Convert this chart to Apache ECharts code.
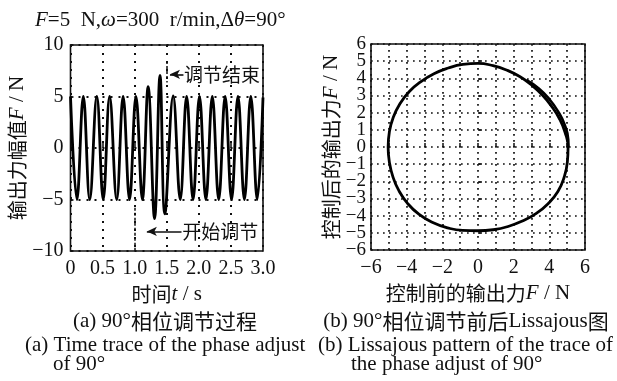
<!DOCTYPE html>
<html>
<head>
<meta charset="utf-8">
<script src="https://cdn.jsdelivr.net/npm/echarts@6/dist/echarts.min.js"></script>
<style>
html,body{margin:0;padding:0;background:#fff;}
#c{width:617px;height:381px;}
</style>
</head>
<body>
<div id="c"></div>
<script>
// ---- data ----
// (a) time trace: extremes of the output force
const timeS = [0, 0.10, 0.20, 0.30, 0.41, 0.51, 0.61, 0.72, 0.82, 0.92, 1.02, 1.12, 1.21, 1.31, 1.395, 1.47, 1.60, 1.71, 1.81, 1.91, 2.01, 2.11, 2.21, 2.31, 2.41, 2.51, 2.61, 2.71, 2.81, 2.91, 3.0];
const forceN = [5, -5, 5, -5, 5, -5, 5, -5, 5, -5, 5, -5, 5.95, -6.85, 7.05, -6.4, 5.05, -5, 5, -5, 5, -5, 5, -5, 5, -5, 5, -5, 5, -5, 4.9];
// (b) Lissajous trace: before (x) vs after (y)
const lissX = [0, -0.85, -1.67, -2.47, -3.20, -3.85, -4.37, -4.75, -4.97, -5.04, -4.97, -4.77, -4.43, -3.94, -3.30, -2.54, -1.71, -0.86, 0, 0.85, 1.69, 2.49, 3.25, 3.93, 4.48, 4.83, 5.01, 5.05, 4.88, 4.56, 4.12, 3.61, 3.02, 2.36, 1.63, 0.84, 0, -0.85];
const lissY = [4.87, 4.81, 4.60, 4.27, 3.81, 3.23, 2.53, 1.73, 0.88, 0, -0.88, -1.74, -2.56, -3.30, -3.93, -4.40, -4.71, -4.86, -4.88, -4.82, -4.63, -4.31, -3.88, -3.30, -2.59, -1.76, -0.88, 0, 0.86, 1.66, 2.38, 3.03, 3.60, 4.09, 4.47, 4.74, 4.87, 4.81];
// transient overlap on the right side of the Lissajous figure
const bandX = [2.73, 3.41, 3.99, 4.48, 4.86, 5.06, 5.07];
const bandY = [3.89, 3.41, 2.80, 2.09, 1.30, 0.44, 0];
// tick labels
const leftXTicks = ['0', '0.5', '1.0', '1.5', '2.0', '2.5', '3.0'];
const leftYTicks = ['−10', '−5', '0', '5', '10'];
const rightTicks = ['−6', '−5', '−4', '−3', '−2', '−1', '0', '1', '2', '3', '4', '5', '6'];
// annotation markers
const startAdjust = 1.0, endAdjust = 1.5;

const FONT = "'Liberation Serif', 'Noto Sans CJK SC', serif";
const CJK = "'Noto Sans CJK SC', 'Liberation Serif', sans-serif";

const waveData = timeS.map((t, i) => [t, forceN[i]]);
const lissData = lissX.map((x, i) => [x, lissY[i]]);
const bandData = bandX.map((x, i) => [x, bandY[i]]);

const dotted = { color: '#111', width: 2, type: [2, 6] };
const dottedR = { color: '#111', width: 1.7, type: [1.7, 4.3] };

function labelFmt(list, min, step) {
  return function (v) {
    const idx = Math.round((v - min) / step);
    return list[idx] !== undefined ? list[idx] : '';
  };
}

const nameRich = {
  i: { fontFamily: FONT, fontStyle: 'italic', fontSize: 21, color: '#111' },
  r: { fontFamily: FONT, fontSize: 21, color: '#111' }
};

const chart = echarts.init(document.getElementById('c'), null, { renderer: 'canvas' });
const option = {
  animation: false,
  backgroundColor: '#fff',
  grid: [
    { left: 70.5, top: 45, width: 192.5, height: 206, show: true, borderColor: '#111', borderWidth: 1.6, backgroundColor: 'transparent' },
    { left: 371, top: 44, width: 214, height: 206, show: true, borderColor: '#111', borderWidth: 1.6, backgroundColor: 'transparent' }
  ],
  xAxis: [
    {
      gridIndex: 0, type: 'value', min: 0, max: 3, interval: 0.5,
      axisLine: { show: false },
      axisTick: { show: true, inside: true, length: 5, lineStyle: { color: '#111', width: 1.5 } },
      axisLabel: { fontFamily: FONT, fontSize: 20, color: '#111', margin: 8, showMinLabel: true, showMaxLabel: true, formatter: labelFmt(leftXTicks, 0, 0.5) },
      splitLine: { show: true, lineStyle: dotted },
      name: '时间{i|t}{r| / s}', nameLocation: 'middle', nameGap: 31,
      nameTextStyle: { fontFamily: CJK, fontSize: 20, color: '#111', rich: nameRich }
    },
    {
      gridIndex: 1, type: 'value', min: -6, max: 6, interval: 1,
      axisLine: { show: false },
      axisTick: { show: true, inside: true, length: 4, lineStyle: { color: '#111', width: 1.5 } },
      axisLabel: { fontFamily: FONT, fontSize: 20, color: '#111', margin: 8, showMinLabel: true, showMaxLabel: true,
        formatter: function (v) { return (Math.round(v) % 2 === 0) ? rightTicks[Math.round(v) + 6] : ''; } },
      splitLine: { show: true, lineStyle: dottedR },
      name: '控制前的输出力{i|F}{r| / N}', nameLocation: 'middle', nameGap: 32,
      nameTextStyle: { fontFamily: CJK, fontSize: 20, color: '#111', rich: nameRich }
    }
  ],
  yAxis: [
    {
      gridIndex: 0, type: 'value', min: -10, max: 10, interval: 5,
      axisLine: { show: false },
      axisTick: { show: true, inside: true, length: 3, lineStyle: { color: '#111', width: 1.5 } },
      axisLabel: { fontFamily: FONT, fontSize: 20, color: '#111', margin: 7, showMinLabel: true, showMaxLabel: true, formatter: labelFmt(leftYTicks, -10, 5) },
      splitLine: { show: true, lineStyle: dotted },
      name: '输出力幅值{i|F}{r| / N}', nameLocation: 'middle', nameGap: 38,
      nameTextStyle: { fontFamily: CJK, fontSize: 20, color: '#111', rich: nameRich }
    },
    {
      gridIndex: 1, type: 'value', position: 'left', min: -6, max: 6, interval: 1,
      axisLine: { show: false },
      axisTick: { show: true, inside: true, length: 4, lineStyle: { color: '#111', width: 1.5 } },
      axisLabel: { fontFamily: FONT, fontSize: 19, color: '#111', margin: 5, showMinLabel: false, showMaxLabel: false, formatter: labelFmt(rightTicks, -6, 1) },
      splitLine: { show: true, lineStyle: dottedR },
      name: '控制后的输出力{i|F}{r| / N}', nameLocation: 'middle', nameGap: 29,
      nameTextStyle: { fontFamily: CJK, fontSize: 20, color: '#111', rich: nameRich }
    },
    {
      // carries only the end labels (−6 and 6) of the right plot
      gridIndex: 1, type: 'value', position: 'left', offset: 0, min: -6, max: 6, interval: 1,
      axisLine: { show: false }, axisTick: { show: false }, splitLine: { show: false },
      axisLabel: { fontFamily: FONT, fontSize: 19, color: '#111', margin: 5, showMinLabel: true, showMaxLabel: true,
        formatter: function (v) { return (Math.abs(v) > 5.5) ? rightTicks[Math.round(v) + 6] : ''; } }
    }
  ],
  series: [
    {
      type: 'line', xAxisIndex: 0, yAxisIndex: 0, data: waveData,
      smooth: 0.4, showSymbol: false, symbol: 'none',
      lineStyle: { color: '#000', width: 2.8 },
      markLine: {
        silent: true, animation: false,
        label: { show: false },
        symbol: ['none', 'none'],
        lineStyle: { color: '#111', width: 1.5, type: [3, 2] },
        data: [
          [{ coord: [startAdjust, -5.8] }, { coord: [startAdjust, -10] }],
          [{ coord: [endAdjust, 8.45] }, { coord: [endAdjust, 6.35] }],
          [{ coord: [1.19, -8.1], symbol: 'arrow', symbolSize: [7, 10], lineStyle: { type: 'solid', width: 1.6 } },
           { coord: [1.73, -8.1], symbol: 'none' }],
          [{ coord: [1.55, 7.15], symbol: 'arrow', symbolSize: [7, 10], lineStyle: { type: 'solid', width: 1.6 } },
           { coord: [1.76, 7.15], symbol: 'none' }]
        ]
      }
    },
    {
      type: 'line', xAxisIndex: 1, yAxisIndex: 1, data: lissData,
      smooth: 0.5, showSymbol: false, symbol: 'none',
      lineStyle: { color: '#000', width: 2.8 }
    },
    {
      type: 'line', xAxisIndex: 1, yAxisIndex: 1, data: bandData,
      smooth: 0.5, showSymbol: false, symbol: 'none',
      lineStyle: { color: '#000', width: 2.6 }
    }
  ]
};
chart.setOption(option);

const p1 = chart.convertToPixel({ gridIndex: 0 }, [1.77, 7.15]);
const p2 = chart.convertToPixel({ gridIndex: 0 }, [1.74, -8.1]);

const rich = {
  i: { fontFamily: FONT, fontStyle: 'italic', fontSize: 21, fill: '#111' },
  r: { fontFamily: FONT, fontSize: 21, fill: '#111' },
  c: { fontFamily: CJK, fontSize: 21, fill: '#111' }
};
function txt(x, y, text, align, size, family) {
  return {
    type: 'text', x: x, y: y, silent: true,
    style: {
      text: text, fill: '#111', font: (size || 21) + 'px ' + (family || FONT),
      fontFamily: family || FONT, fontSize: size || 21,
      align: align || 'left', verticalAlign: 'middle', rich: rich
    }
  };
}

chart.setOption({
  graphic: [
    txt(35, 20, '{i|F}{r|=5  N,}{i|ω}{r|=300  r/min,Δ}{i|θ}{r|=90°}', 'left'),
    txt(p1[0], p1[1], '调节结束', 'left', 19, CJK),
    txt(p2[0], p2[1], '开始调节', 'left', 19, CJK),
    txt(165, 321, '{r|(a) 90°}{c|相位调节过程}', 'center'),
    txt(25, 345, '(a) Time trace of the phase adjust', 'left'),
    txt(53, 364, 'of 90°', 'left'),
    txt(466, 321, '{r|(b) 90°}{c|相位调节前后}{r|Lissajous}{c|图}', 'center'),
    txt(318, 345, '(b) Lissajous pattern of the trace of', 'left'),
    txt(351, 364, 'the phase adjust of 90°', 'left')
  ]
});
</script>
</body>
</html>
